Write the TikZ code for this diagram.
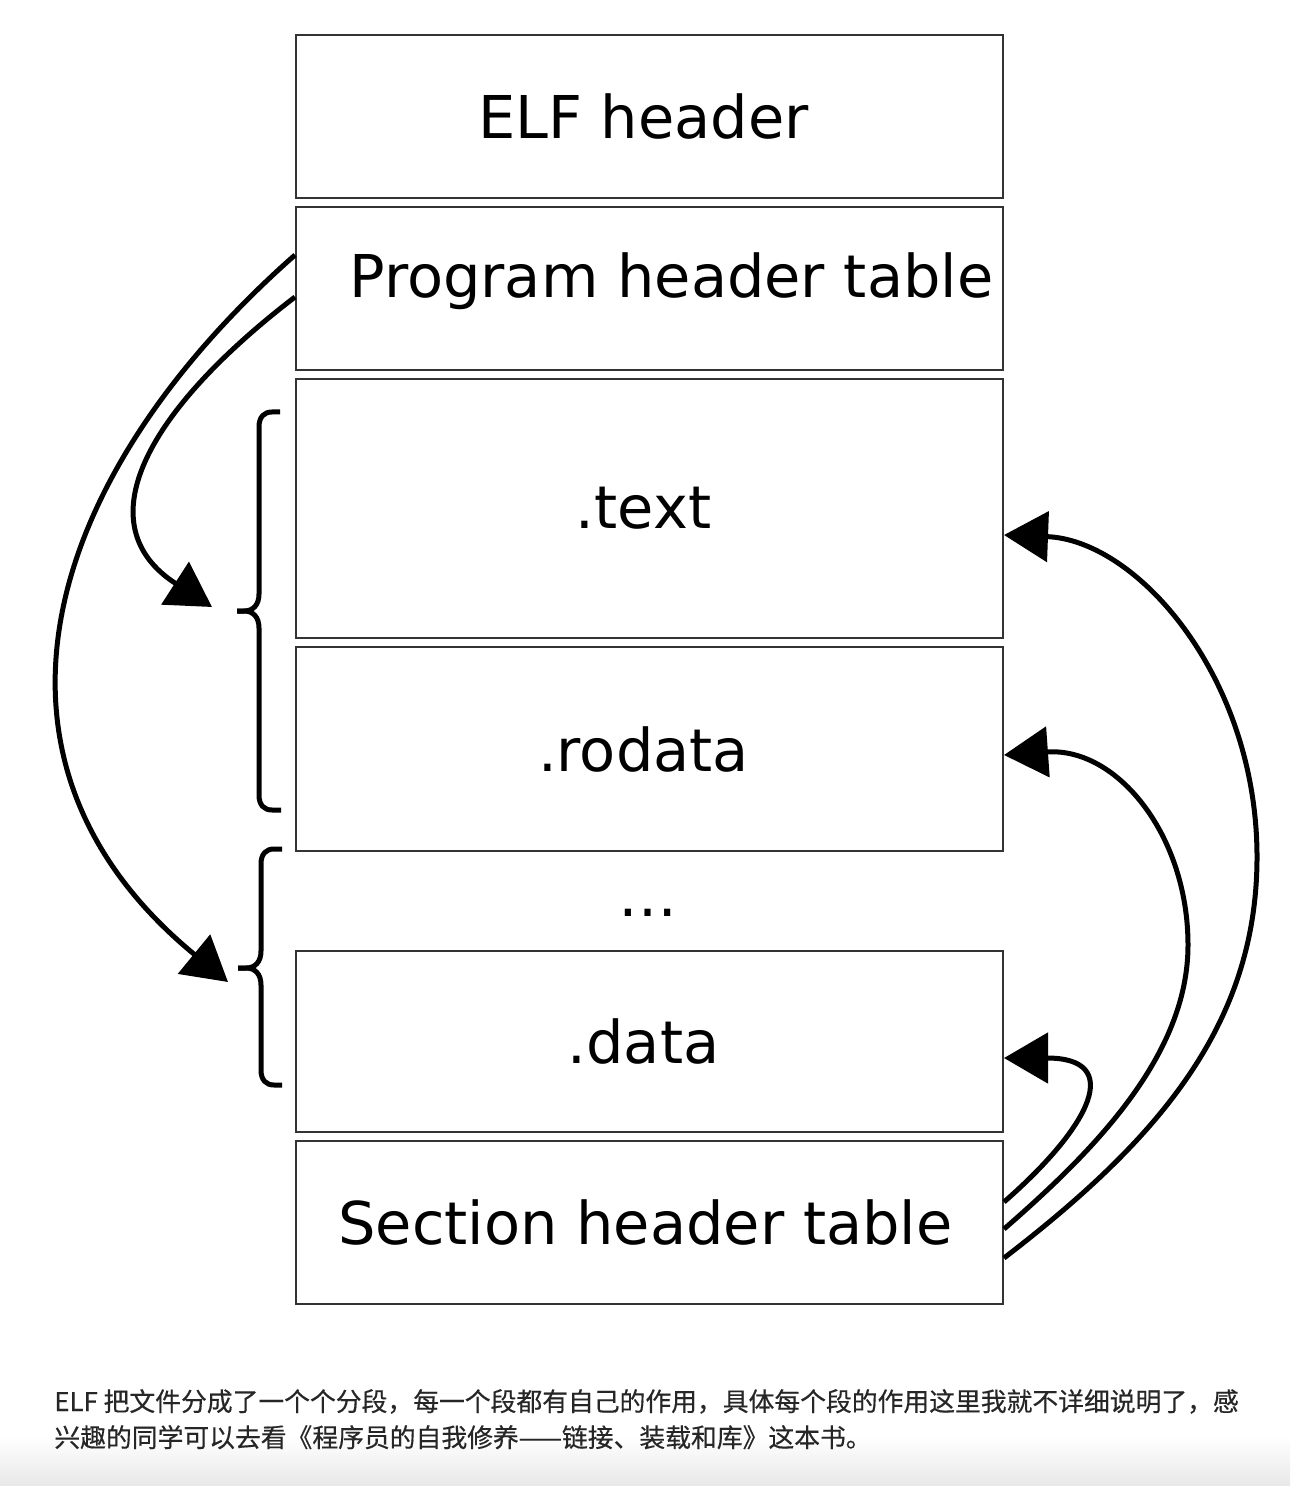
\documentclass[tikz,border=0pt]{standalone}
\usepackage{fontspec}
\setmainfont{DejaVu Sans}
\newfontfamily\cjk[FakeBold=0.4]{Noto Sans CJK SC}
\usetikzlibrary{arrows.meta}
\definecolor{boxline}{HTML}{333333}
\definecolor{captxt}{HTML}{262626}
\begin{document}
\begin{tikzpicture}[x=0.5pt,y=-0.5pt,
  box/.style={draw=boxline, line width=1pt, minimum width=353.5pt, inner sep=0pt,
    font=\fontsize{29.5pt}{35pt}\selectfont},
  conn/.style={line width=2.5pt, -{Triangle[length=22pt,width=25pt]}},
  bracestyle/.style={line width=2.5pt},
  captext/.style={anchor=base west, inner sep=0pt, text=captxt,
    font=\cjk\fontsize{12.9pt}{16pt}\selectfont}]
\useasboundingbox (0,0) rectangle (1290,1486);
\fill[white] (0,0) rectangle (1290,1486);
\shade[top color=white, bottom color=black!9] (0,1436) rectangle (1290,1486);

% boxes
\node[box, minimum height=81.5pt] (elf) at (649.5,116.5) {\hspace*{-6pt}ELF header};
\node[box, minimum height=81.5pt, text height=22pt, text depth=13pt] (pht) at (649.5,288.5) {\hspace*{22pt}Program header table};
\node[box, minimum height=129.5pt] (text) at (649.5,508.5) {\hspace*{-6pt}.text};
\node[box, minimum height=102pt] (rodata) at (649.5,749) {\hspace*{-6pt}.rodata};
\node[anchor=base, inner sep=0pt, font=\fontsize{29.5pt}{35pt}\selectfont] (dots) at (648,916) {…};
\node[box, minimum height=90.5pt] (data) at (649.5,1041.5) {\hspace*{-6pt}.data};
\node[box, minimum height=81.5pt] (sht) at (649.5,1222.5) {\hspace*{-4pt}Section header table};

% braces
\draw[bracestyle] (280,412) -- (272,412) .. controls (264,412) and (259,417) .. (259,427) -- (259,594)
  .. controls (259,605) and (253,611) .. (244,611) -- (237,611);
\draw[bracestyle] (237,611) -- (244,611) .. controls (253,611) and (259,617) .. (259,628) -- (259,795)
  .. controls (259,805) and (264,810) .. (272,810) -- (281,810);
\draw[bracestyle] (282,849) -- (274,849) .. controls (266,849) and (261,854) .. (261,864) -- (261,951)
  .. controls (261,962) and (255,968) .. (246,968) -- (238,968);
\draw[bracestyle] (238,968) -- (246,968) .. controls (255,968) and (261,974) .. (261,985) -- (261,1070)
  .. controls (261,1080) and (266,1085) .. (274,1085) -- (282,1085);

% arrow targets at the braces
\coordinate (t1) at (212,607);
\coordinate (t2) at (228,982);

% left arrows
\draw[conn] ([yshift=16.75pt]pht.west) .. controls (40,480) and (-40,762) .. (t2);
\draw[conn] ([yshift=-4.25pt]pht.west) .. controls (145,412) and (85,525) .. (t1);

% right arrows
\draw[conn] ([yshift=10.25pt]sht.east) .. controls (1092,1125) and (1124,1058) .. ([yshift=-8.25pt]data.east);
\draw[conn] ([yshift=-3.25pt]sht.east) .. controls (1095,1150) and (1188,1055) .. (1188,945)
  .. controls (1188,835) and (1117,747) .. ([yshift=-3pt]rodata.east);
\draw[conn] ([yshift=-17.75pt]sht.east) .. controls (1155,1142) and (1257,1027) .. (1257,857)
  .. controls (1257,677) and (1137,540) .. ([yshift=-13.25pt]text.east);

% caption
\node[captext] (cap1) at (54,1411) {ELF 把文件分成了一个个分段，每一个段都有自己的作用，具体每个段的作用这里我就不详细说明了，感};
\node[captext] (cap2) at (54,1447) {兴趣的同学可以去看《程序员的自我修养——链接、装载和库》这本书。};
\end{tikzpicture}
\end{document}
